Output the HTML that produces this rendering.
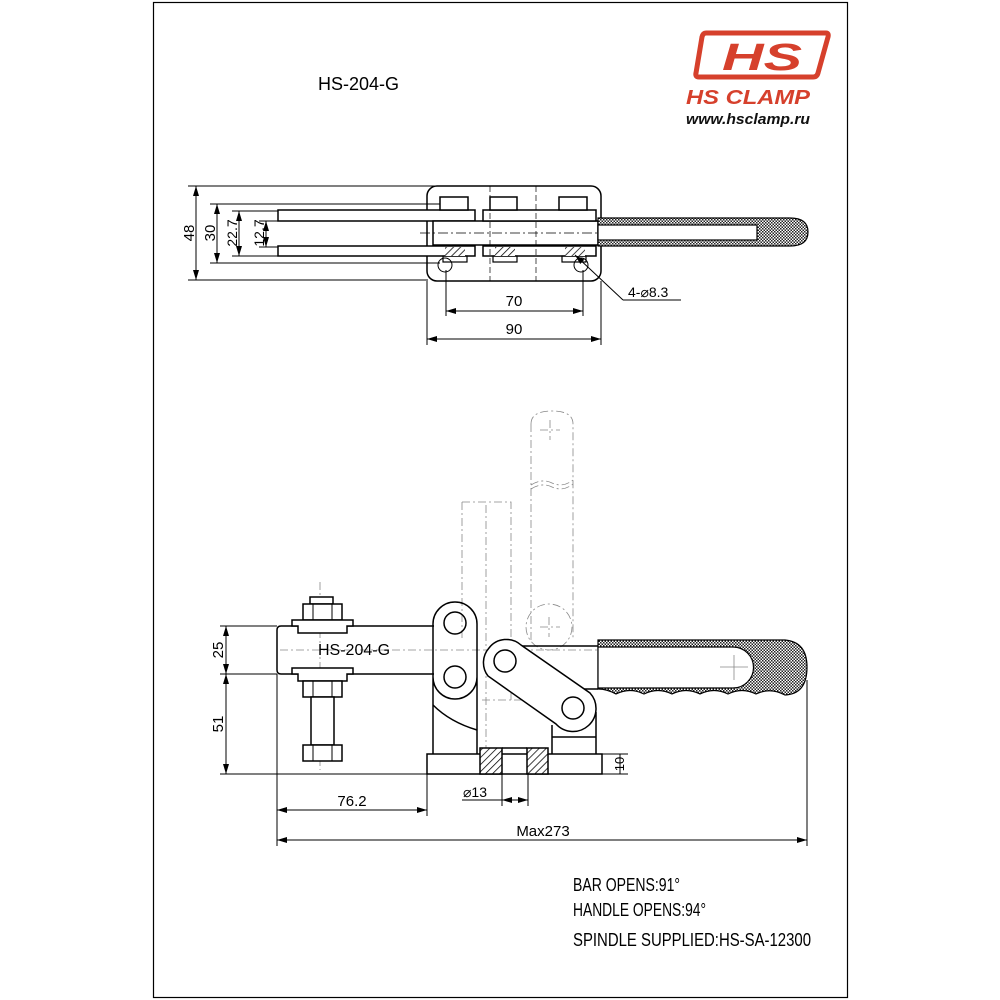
<!DOCTYPE html>
<html><head><meta charset="utf-8"><style>
html,body{margin:0;padding:0;background:#fff;}
svg{display:block;}
text{font-family:"Liberation Sans",sans-serif;}
</style></head><body>
<svg width="1000" height="1000" viewBox="0 0 1000 1000" xmlns="http://www.w3.org/2000/svg">
<defs>
<pattern id="ck" width="3" height="3" patternUnits="userSpaceOnUse">
<rect width="3" height="3" fill="#fff"/><rect width="1.5" height="1.5" fill="#222"/><rect x="1.5" y="1.5" width="1.5" height="1.5" fill="#222"/>
</pattern>
<pattern id="hat" width="5" height="5" patternUnits="userSpaceOnUse" patternTransform="rotate(45)">
<rect width="5" height="5" fill="#fff"/><line x1="0" y1="0" x2="0" y2="5" stroke="#000" stroke-width="1.5"/>
</pattern>
<marker id="a" viewBox="0 0 10 6" refX="10" refY="3" markerWidth="10" markerHeight="6" orient="auto-start-reverse" markerUnits="userSpaceOnUse"><path d="M0,0L10,3L0,6z" fill="#000"/></marker>
</defs>
<rect x="153.5" y="2.5" width="694" height="995" fill="none" stroke="#000" stroke-width="1.2"/>

<!-- logo -->
<path d="M706,33 L826,33 Q829,33 828,37 L818,73 Q817,77 813,77 L699,77 Q695,77 696,73 L702,37 Q703,33 706,33 Z" fill="none" stroke="#d6402c" stroke-width="5"/>
<text x="762" y="70" font-size="38" font-weight="bold" font-style="italic" fill="#d6402c" text-anchor="middle" textLength="80" lengthAdjust="spacingAndGlyphs">HS</text>
<text x="686" y="104" font-size="20" font-weight="bold" font-style="italic" fill="#d6402c" textLength="124" lengthAdjust="spacingAndGlyphs">HS CLAMP</text>
<text x="686" y="124" font-size="15" font-weight="bold" font-style="italic" fill="#111" textLength="124" lengthAdjust="spacingAndGlyphs">www.hsclamp.ru</text>

<text x="318" y="90" font-size="18">HS-204-G</text>

<g stroke="#000" fill="none" stroke-width="1">
<!-- TOP VIEW -->
<line x1="188" y1="186" x2="440" y2="186"/>
<line x1="188" y1="280" x2="428" y2="280"/>
<line x1="210" y1="204" x2="440" y2="204"/>
<line x1="210" y1="263" x2="440" y2="263"/>
<line x1="232" y1="211" x2="278" y2="211"/>
<line x1="232" y1="256" x2="278" y2="256"/>
<line x1="259" y1="221" x2="278" y2="221"/>
<line x1="259" y1="247" x2="278" y2="247"/>
<line x1="196" y1="186" x2="196" y2="280" marker-start="url(#a)" marker-end="url(#a)"/>
<line x1="217" y1="204" x2="217" y2="263" marker-start="url(#a)" marker-end="url(#a)"/>
<line x1="239" y1="211" x2="239" y2="256" marker-start="url(#a)" marker-end="url(#a)"/>
<line x1="266" y1="221" x2="266" y2="247" marker-start="url(#a)" marker-end="url(#a)"/>
<rect x="427" y="186" width="174" height="95" rx="10" stroke-width="1.5"/>
<rect x="278" y="210" width="197" height="11" fill="#fff" stroke-width="1.5"/>
<rect x="278" y="246" width="197" height="10" fill="#fff" stroke-width="1.5"/>
<rect x="433" y="221" width="165" height="24" fill="#fff" stroke-width="1.5"/>
<rect x="483" y="210" width="113" height="11" fill="#fff" stroke-width="1.5"/>
<rect x="483" y="246" width="113" height="10" fill="#fff" stroke-width="1.5"/>
<rect x="440" y="197" width="28" height="13" fill="#fff" stroke-width="1.5"/>
<rect x="490" y="197" width="27" height="13" fill="#fff" stroke-width="1.5"/>
<rect x="559" y="197" width="28" height="13" fill="#fff" stroke-width="1.5"/>
<rect x="443" y="256" width="24" height="6" stroke-width="1.2"/>
<rect x="493" y="256" width="24" height="6" stroke-width="1.2"/>
<rect x="562" y="256" width="24" height="6" stroke-width="1.2"/>
<circle cx="445" cy="265" r="7"/><circle cx="581" cy="265" r="7"/>
<rect x="445" y="247" width="20" height="9" fill="url(#hat)" stroke="none"/>
<rect x="495" y="247" width="20" height="9" fill="url(#hat)" stroke="none"/>
<rect x="565" y="247" width="20" height="9" fill="url(#hat)" stroke="none"/>
<line x1="490" y1="186" x2="490" y2="281" stroke-dasharray="6,3" stroke-width="0.7"/>
<line x1="536" y1="186" x2="536" y2="281" stroke-dasharray="6,3" stroke-width="0.7"/>
<line x1="420" y1="233" x2="605" y2="233" stroke-dasharray="10,3,2,3" stroke-width="0.7"/>
<!-- top handle -->
<path d="M598,218 L790,218 Q808,218 808,232 Q808,246 790,246 L598,246 Z" fill="url(#ck)" stroke-width="1.2"/>
<rect x="598" y="225" width="159" height="15" fill="#fff" stroke-width="1.2"/>
<line x1="446" y1="270" x2="446" y2="316"/><line x1="583" y1="270" x2="583" y2="316"/>
<line x1="446" y1="311" x2="583" y2="311" marker-start="url(#a)" marker-end="url(#a)"/>
<line x1="427" y1="281" x2="427" y2="345"/><line x1="601" y1="281" x2="601" y2="345"/>
<line x1="427" y1="339" x2="601" y2="339" marker-start="url(#a)" marker-end="url(#a)"/>
<line x1="575" y1="255" x2="623" y2="300" marker-start="url(#a)"/>
<line x1="623" y1="300" x2="681" y2="300"/>
</g>
<g font-size="15" fill="#000">
<text transform="translate(194,233) rotate(-90)" text-anchor="middle">48</text>
<text transform="translate(215,233) rotate(-90)" text-anchor="middle">30</text>
<text transform="translate(237,233) rotate(-90)" text-anchor="middle" font-size="14">22.7</text>
<text transform="translate(264,233) rotate(-90)" text-anchor="middle" font-size="14">12.7</text>
<text x="514" y="306" text-anchor="middle">70</text>
<text x="514" y="334" text-anchor="middle">90</text>
<text x="628" y="297" font-family="Liberation Serif" font-size="14">4-⌀8.3</text>
</g>

<!-- SIDE VIEW -->
<g stroke="#888" fill="none" stroke-width="0.8" stroke-dasharray="8,3,2,3">
<path d="M531,424 Q531,411 552,411 Q573,411 573,424 L573,640"/>
<line x1="531" y1="424" x2="531" y2="640"/>
<path d="M531,485 Q542,478 552,483 Q563,488 573,480"/>
<path d="M531,489 Q542,482 552,487 Q563,492 573,484"/>
<circle cx="549" cy="627" r="23"/>
<path d="M462,502 L511,502 L511,700 M462,502 L462,640"/>
<line x1="486" y1="505" x2="486" y2="760"/>
<circle cx="516" cy="680" r="13"/>
<line x1="540" y1="430" x2="560" y2="430"/><line x1="550" y1="420" x2="550" y2="440"/>
<line x1="540" y1="627" x2="560" y2="627"/><line x1="549" y1="617" x2="549" y2="637"/>
<line x1="320" y1="582" x2="320" y2="770"/>
<line x1="280" y1="650" x2="640" y2="650"/>
<line x1="482" y1="700" x2="580" y2="700"/>
</g>
<g stroke="#000" fill="none" stroke-width="1.5">
<path d="M434,626 L281,626 Q277,626 277,630 L277,670 Q277,674 281,674 L434,674"/>
<path d="M433,624 A22,22 0 0 1 477,624 L477,754 M433,677 A22,22 0 0 0 477,677 M433,624 L433,754"/>
<path d="M433,705 Q450,722 477,730"/>
<circle cx="455" cy="623" r="11"/><circle cx="455" cy="677" r="11"/>
<line x1="510" y1="646" x2="598" y2="646"/>
<line x1="560" y1="689" x2="598" y2="689"/>
<path d="M489,648 A22,22 0 0 1 521,645 L590,693 A22,22 0 0 1 556,724 L488,676 A22,22 0 0 1 489,648 Z" fill="#fff"/>
<circle cx="505" cy="661" r="11"/><circle cx="573" cy="708" r="11"/>
<path d="M552,725 L552,754 M596,712 L596,754 M552,737 L596,737"/>
<rect x="427" y="754" width="175" height="20" fill="#fff"/>
<rect x="480" y="748" width="22" height="26" fill="url(#hat)"/>
<rect x="527" y="748" width="21" height="26" fill="url(#hat)"/>
<line x1="502" y1="748" x2="527" y2="748"/>
<rect x="310" y="597" width="23" height="7" fill="#fff"/>
<rect x="303" y="604" width="39" height="16" fill="#fff"/>
<path d="M292,626 L292,620 L353,620 L353,626 L347,626 L347,633 L298,633 L298,626 Z" fill="#fff"/>
<path d="M292,674 L292,668 L353,668 L353,674 L347,674 L347,681 L298,681 L298,674 Z" fill="#fff"/>
<rect x="303" y="681" width="39" height="16" fill="#fff"/>
<rect x="311" y="697" width="23" height="48" fill="#fff"/>
<rect x="303" y="745" width="39" height="16" fill="#fff"/>
<path d="M313,604 L313,620 M332,604 L332,620 M313,681 L313,697 M332,681 L332,697 M313,745 L313,761 M332,745 L332,761" stroke-width="1"/>
<path d="M598,640 L785,640 Q807,642 807,667 Q807,694 785,695 Q770,687 756,694 Q742,687 728,694 Q714,687 700,694 Q686,687 672,694 Q658,687 644,694 Q630,687 616,694 Q607,689 598,689 Z" fill="url(#ck)" stroke-width="1.2"/>
<path d="M598,647 L733,647 A20.5,20.5 0 0 1 733,688 L598,688 Z" fill="#fff" stroke-width="1.2"/>
</g>
<g stroke="#888" stroke-width="0.8" fill="none">
<line x1="720" y1="667" x2="748" y2="667"/><line x1="734" y1="655" x2="734" y2="680"/>
</g>
<g stroke="#000" stroke-width="1" fill="none">
<line x1="220" y1="626" x2="277" y2="626"/>
<line x1="220" y1="674" x2="277" y2="674"/>
<line x1="220" y1="774" x2="427" y2="774"/>
<line x1="226" y1="626" x2="226" y2="674" marker-start="url(#a)" marker-end="url(#a)"/>
<line x1="226" y1="674" x2="226" y2="774" marker-start="url(#a)" marker-end="url(#a)"/>
<line x1="602" y1="754" x2="628" y2="754"/><line x1="602" y1="774" x2="628" y2="774"/>
<line x1="620" y1="754" x2="620" y2="774"/>
<line x1="277" y1="674" x2="277" y2="846"/>
<line x1="427" y1="774" x2="427" y2="816"/>
<line x1="807" y1="680" x2="807" y2="846"/>
<line x1="502" y1="774" x2="502" y2="806"/><line x1="528" y1="774" x2="528" y2="806"/>
<line x1="462" y1="800" x2="502" y2="800"/>
<line x1="502" y1="800" x2="528" y2="800" marker-start="url(#a)" marker-end="url(#a)"/>
<line x1="277" y1="810" x2="427" y2="810" marker-start="url(#a)" marker-end="url(#a)"/>
<line x1="277" y1="840" x2="807" y2="840" marker-start="url(#a)" marker-end="url(#a)"/>
</g>
<g font-size="15" fill="#000">
<text x="318" y="655" font-size="16">HS-204-G</text>
<text transform="translate(223,650) rotate(-90)" text-anchor="middle">25</text>
<text transform="translate(223,724) rotate(-90)" text-anchor="middle">51</text>
<text transform="translate(624,764) rotate(-90)" text-anchor="middle" font-size="13">10</text>
<text x="463" y="797" font-family="Liberation Serif" font-size="14">⌀13</text>
<text x="352" y="806" text-anchor="middle">76.2</text>
<text x="543" y="836" text-anchor="middle">Max273</text>
</g>
<g font-size="18" fill="#000">
<text x="573" y="891" textLength="107" lengthAdjust="spacingAndGlyphs">BAR OPENS:91°</text>
<text x="573" y="916" textLength="133" lengthAdjust="spacingAndGlyphs">HANDLE OPENS:94°</text>
<text x="573" y="946" textLength="238" lengthAdjust="spacingAndGlyphs">SPINDLE SUPPLIED:HS-SA-12300</text>
</g>
</svg>
</body></html>
